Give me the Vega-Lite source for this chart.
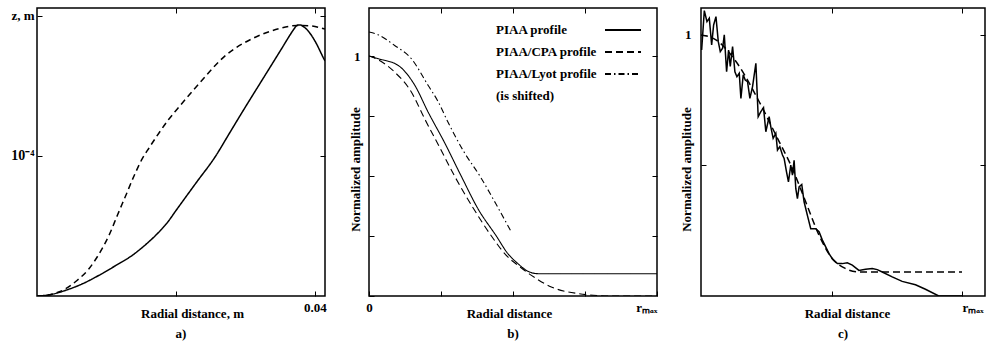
{
  "$schema": "https://vega.github.io/schema/vega-lite/v6.json",
  "background": "white",
  "padding": {"left": 10, "top": 6, "right": 0, "bottom": 0},
  "spacing": 44,
  "bounds": "flush",
  "resolve": {"scale": {"strokeDash": "independent"}, "legend": {"strokeDash": "independent"}},
  "datasets": {
    "panelA": [
      {"r": 0, "z": 0, "profile": "PIAA profile"},
      {"r": 0.002014, "z": 1.07e-6, "profile": "PIAA profile"},
      {"r": 0.004129, "z": 4.07e-6, "profile": "PIAA profile"},
      {"r": 0.006475, "z": 8.57e-6, "profile": "PIAA profile"},
      {"r": 0.008921, "z": 1.479e-5, "profile": "PIAA profile"},
      {"r": 0.011223, "z": 2.143e-5, "profile": "PIAA profile"},
      {"r": 0.013712, "z": 2.907e-5, "profile": "PIAA profile"},
      {"r": 0.015396, "z": 3.571e-5, "profile": "PIAA profile"},
      {"r": 0.017079, "z": 4.336e-5, "profile": "PIAA profile"},
      {"r": 0.018705, "z": 5.214e-5, "profile": "PIAA profile"},
      {"r": 0.020187, "z": 6.236e-5, "profile": "PIAA profile"},
      {"r": 0.022877, "z": 8.071e-5, "profile": "PIAA profile"},
      {"r": 0.025712, "z": 1.0e-4, "profile": "PIAA profile"},
      {"r": 0.027626, "z": 1.157e-4, "profile": "PIAA profile"},
      {"r": 0.029539, "z": 1.314e-4, "profile": "PIAA profile"},
      {"r": 0.032662, "z": 1.564e-4, "profile": "PIAA profile"},
      {"r": 0.035252, "z": 1.771e-4, "profile": "PIAA profile"},
      {"r": 0.036403, "z": 1.864e-4, "profile": "PIAA profile"},
      {"r": 0.036978, "z": 1.907e-4, "profile": "PIAA profile"},
      {"r": 0.037453, "z": 1.934e-4, "profile": "PIAA profile"},
      {"r": 0.037842, "z": 1.936e-4, "profile": "PIAA profile"},
      {"r": 0.038417, "z": 1.921e-4, "profile": "PIAA profile"},
      {"r": 0.039137, "z": 1.886e-4, "profile": "PIAA profile"},
      {"r": 0.039996, "z": 1.821e-4, "profile": "PIAA profile"},
      {"r": 0.041291, "z": 1.693e-4, "profile": "PIAA profile"},
      {"r": 0.041439, "z": 1.679e-4, "profile": "PIAA profile"},
      {"r": 0, "z": 0, "profile": "PIAA/CPA profile"},
      {"r": 0.001295, "z": 3.6e-7, "profile": "PIAA/CPA profile"},
      {"r": 0.002734, "z": 2.14e-6, "profile": "PIAA/CPA profile"},
      {"r": 0.004129, "z": 5.21e-6, "profile": "PIAA/CPA profile"},
      {"r": 0.005755, "z": 1.107e-5, "profile": "PIAA/CPA profile"},
      {"r": 0.007482, "z": 1.95e-5, "profile": "PIAA/CPA profile"},
      {"r": 0.008921, "z": 3.0e-5, "profile": "PIAA/CPA profile"},
      {"r": 0.01036, "z": 4.336e-5, "profile": "PIAA/CPA profile"},
      {"r": 0.011583, "z": 5.786e-5, "profile": "PIAA/CPA profile"},
      {"r": 0.012806, "z": 7.214e-5, "profile": "PIAA/CPA profile"},
      {"r": 0.013957, "z": 8.571e-5, "profile": "PIAA/CPA profile"},
      {"r": 0.015151, "z": 9.807e-5, "profile": "PIAA/CPA profile"},
      {"r": 0.016115, "z": 1.0571e-4, "profile": "PIAA/CPA profile"},
      {"r": 0.017553, "z": 1.1643e-4, "profile": "PIAA/CPA profile"},
      {"r": 0.018992, "z": 1.2643e-4, "profile": "PIAA/CPA profile"},
      {"r": 0.020187, "z": 1.3357e-4, "profile": "PIAA/CPA profile"},
      {"r": 0.023309, "z": 1.516e-4, "profile": "PIAA/CPA profile"},
      {"r": 0.027151, "z": 1.719e-4, "profile": "PIAA/CPA profile"},
      {"r": 0.030978, "z": 1.838e-4, "profile": "PIAA/CPA profile"},
      {"r": 0.03482, "z": 1.909e-4, "profile": "PIAA/CPA profile"},
      {"r": 0.037453, "z": 1.932e-4, "profile": "PIAA/CPA profile"},
      {"r": 0.039137, "z": 1.93e-4, "profile": "PIAA/CPA profile"},
      {"r": 0.041439, "z": 1.907e-4, "profile": "PIAA/CPA profile"}
    ],
    "panelB": [
      {"r": 0, "a": 1.0, "profile": "PIAA profile"},
      {"r": 0.031, "a": 0.989, "profile": "PIAA profile"},
      {"r": 0.101, "a": 0.961, "profile": "PIAA profile"},
      {"r": 0.159, "a": 0.878, "profile": "PIAA profile"},
      {"r": 0.205, "a": 0.767, "profile": "PIAA profile"},
      {"r": 0.262, "a": 0.64, "profile": "PIAA profile"},
      {"r": 0.32, "a": 0.5, "profile": "PIAA profile"},
      {"r": 0.38, "a": 0.36, "profile": "PIAA profile"},
      {"r": 0.442, "a": 0.25, "profile": "PIAA profile"},
      {"r": 0.48, "a": 0.18, "profile": "PIAA profile"},
      {"r": 0.517, "a": 0.135, "profile": "PIAA profile"},
      {"r": 0.552, "a": 0.103, "profile": "PIAA profile"},
      {"r": 0.587, "a": 0.093, "profile": "PIAA profile"},
      {"r": 1.0, "a": 0.093, "profile": "PIAA profile"},
      {"r": 0, "a": 1.0, "profile": "PIAA/CPA profile"},
      {"r": 0.031, "a": 0.985, "profile": "PIAA/CPA profile"},
      {"r": 0.089, "a": 0.933, "profile": "PIAA/CPA profile"},
      {"r": 0.147, "a": 0.85, "profile": "PIAA/CPA profile"},
      {"r": 0.193, "a": 0.739, "profile": "PIAA/CPA profile"},
      {"r": 0.245, "a": 0.62, "profile": "PIAA/CPA profile"},
      {"r": 0.297, "a": 0.5, "profile": "PIAA/CPA profile"},
      {"r": 0.36, "a": 0.37, "profile": "PIAA/CPA profile"},
      {"r": 0.425, "a": 0.25, "profile": "PIAA/CPA profile"},
      {"r": 0.48, "a": 0.165, "profile": "PIAA/CPA profile"},
      {"r": 0.517, "a": 0.128, "profile": "PIAA/CPA profile"},
      {"r": 0.564, "a": 0.086, "profile": "PIAA/CPA profile"},
      {"r": 0.633, "a": 0.0375, "profile": "PIAA/CPA profile"},
      {"r": 0.726, "a": 0.01, "profile": "PIAA/CPA profile"},
      {"r": 0.795, "a": 0.002, "profile": "PIAA/CPA profile"},
      {"r": 0.85, "a": 0, "profile": "PIAA/CPA profile"},
      {"r": 1.0, "a": 0, "profile": "PIAA/CPA profile"},
      {"r": 0, "a": 1.1, "profile": "PIAA/Lyot profile"},
      {"r": 0.031, "a": 1.089, "profile": "PIAA/Lyot profile"},
      {"r": 0.089, "a": 1.044, "profile": "PIAA/Lyot profile"},
      {"r": 0.147, "a": 0.989, "profile": "PIAA/Lyot profile"},
      {"r": 0.205, "a": 0.878, "profile": "PIAA/Lyot profile"},
      {"r": 0.24, "a": 0.81, "profile": "PIAA/Lyot profile"},
      {"r": 0.274, "a": 0.725, "profile": "PIAA/Lyot profile"},
      {"r": 0.33, "a": 0.6, "profile": "PIAA/Lyot profile"},
      {"r": 0.385, "a": 0.5, "profile": "PIAA/Lyot profile"},
      {"r": 0.44, "a": 0.385, "profile": "PIAA/Lyot profile"},
      {"r": 0.494, "a": 0.267, "profile": "PIAA/Lyot profile"}
    ],
    "panelC": [
      {"r": 0, "a": 1.0, "profile": "Ideal profile"},
      {"r": 0.057, "a": 0.981, "profile": "Ideal profile"},
      {"r": 0.134, "a": 0.898, "profile": "Ideal profile"},
      {"r": 0.223, "a": 0.744, "profile": "Ideal profile"},
      {"r": 0.287, "a": 0.616, "profile": "Ideal profile"},
      {"r": 0.35, "a": 0.488, "profile": "Ideal profile"},
      {"r": 0.401, "a": 0.361, "profile": "Ideal profile"},
      {"r": 0.452, "a": 0.233, "profile": "Ideal profile"},
      {"r": 0.503, "a": 0.143, "profile": "Ideal profile"},
      {"r": 0.554, "a": 0.105, "profile": "Ideal profile"},
      {"r": 0.605, "a": 0.092, "profile": "Ideal profile"},
      {"r": 1.0, "a": 0.092, "profile": "Ideal profile"},
      {"r": 0.0025, "a": 0.942, "profile": "Measured profile"},
      {"r": 0.0127, "a": 1.093, "profile": "Measured profile"},
      {"r": 0.0229, "a": 1.051, "profile": "Measured profile"},
      {"r": 0.0318, "a": 1.064, "profile": "Measured profile"},
      {"r": 0.0408, "a": 0.962, "profile": "Measured profile"},
      {"r": 0.0484, "a": 1.038, "profile": "Measured profile"},
      {"r": 0.0573, "a": 1.07, "profile": "Measured profile"},
      {"r": 0.0662, "a": 0.974, "profile": "Measured profile"},
      {"r": 0.0739, "a": 0.936, "profile": "Measured profile"},
      {"r": 0.0828, "a": 0.949, "profile": "Measured profile"},
      {"r": 0.0892, "a": 1.0, "profile": "Measured profile"},
      {"r": 0.0981, "a": 0.859, "profile": "Measured profile"},
      {"r": 0.1057, "a": 0.942, "profile": "Measured profile"},
      {"r": 0.1121, "a": 0.879, "profile": "Measured profile"},
      {"r": 0.121, "a": 0.955, "profile": "Measured profile"},
      {"r": 0.1299, "a": 0.859, "profile": "Measured profile"},
      {"r": 0.1376, "a": 0.84, "profile": "Measured profile"},
      {"r": 0.1465, "a": 0.853, "profile": "Measured profile"},
      {"r": 0.1529, "a": 0.757, "profile": "Measured profile"},
      {"r": 0.1618, "a": 0.847, "profile": "Measured profile"},
      {"r": 0.1694, "a": 0.827, "profile": "Measured profile"},
      {"r": 0.1783, "a": 0.821, "profile": "Measured profile"},
      {"r": 0.1873, "a": 0.757, "profile": "Measured profile"},
      {"r": 0.1975, "a": 0.802, "profile": "Measured profile"},
      {"r": 0.2102, "a": 0.891, "profile": "Measured profile"},
      {"r": 0.2191, "a": 0.687, "profile": "Measured profile"},
      {"r": 0.2293, "a": 0.706, "profile": "Measured profile"},
      {"r": 0.2395, "a": 0.721, "profile": "Measured profile"},
      {"r": 0.2484, "a": 0.629, "profile": "Measured profile"},
      {"r": 0.2611, "a": 0.687, "profile": "Measured profile"},
      {"r": 0.2675, "a": 0.648, "profile": "Measured profile"},
      {"r": 0.2764, "a": 0.604, "profile": "Measured profile"},
      {"r": 0.2866, "a": 0.623, "profile": "Measured profile"},
      {"r": 0.293, "a": 0.559, "profile": "Measured profile"},
      {"r": 0.3019, "a": 0.572, "profile": "Measured profile"},
      {"r": 0.3121, "a": 0.54, "profile": "Measured profile"},
      {"r": 0.3185, "a": 0.527, "profile": "Measured profile"},
      {"r": 0.3274, "a": 0.476, "profile": "Measured profile"},
      {"r": 0.335, "a": 0.437, "profile": "Measured profile"},
      {"r": 0.3439, "a": 0.501, "profile": "Measured profile"},
      {"r": 0.3503, "a": 0.463, "profile": "Measured profile"},
      {"r": 0.3567, "a": 0.52, "profile": "Measured profile"},
      {"r": 0.3631, "a": 0.412, "profile": "Measured profile"},
      {"r": 0.3694, "a": 0.373, "profile": "Measured profile"},
      {"r": 0.3758, "a": 0.418, "profile": "Measured profile"},
      {"r": 0.386, "a": 0.427, "profile": "Measured profile"},
      {"r": 0.3949, "a": 0.361, "profile": "Measured profile"},
      {"r": 0.4076, "a": 0.309, "profile": "Measured profile"},
      {"r": 0.4204, "a": 0.258, "profile": "Measured profile"},
      {"r": 0.4395, "a": 0.258, "profile": "Measured profile"},
      {"r": 0.4522, "a": 0.246, "profile": "Measured profile"},
      {"r": 0.465, "a": 0.214, "profile": "Measured profile"},
      {"r": 0.4777, "a": 0.188, "profile": "Measured profile"},
      {"r": 0.4904, "a": 0.162, "profile": "Measured profile"},
      {"r": 0.5032, "a": 0.143, "profile": "Measured profile"},
      {"r": 0.5223, "a": 0.124, "profile": "Measured profile"},
      {"r": 0.5414, "a": 0.124, "profile": "Measured profile"},
      {"r": 0.5605, "a": 0.127, "profile": "Measured profile"},
      {"r": 0.5796, "a": 0.118, "profile": "Measured profile"},
      {"r": 0.6051, "a": 0.098, "profile": "Measured profile"},
      {"r": 0.6306, "a": 0.102, "profile": "Measured profile"},
      {"r": 0.6561, "a": 0.105, "profile": "Measured profile"},
      {"r": 0.6752, "a": 0.101, "profile": "Measured profile"},
      {"r": 0.6943, "a": 0.092, "profile": "Measured profile"},
      {"r": 0.7325, "a": 0.073, "profile": "Measured profile"},
      {"r": 0.7707, "a": 0.056, "profile": "Measured profile"},
      {"r": 0.8217, "a": 0.043, "profile": "Measured profile"},
      {"r": 0.8599, "a": 0.026, "profile": "Measured profile"},
      {"r": 0.9108, "a": 0.0, "profile": "Measured profile"},
      {"r": 1.0, "a": 0.0, "profile": "Measured profile"}
    ]
  },
  "hconcat": [
    {
      "width": 288,
      "height": 288,
      "data": {"name": "panelA"},
      "title": {"text": "a)", "orient": "bottom", "offset": 8},
      "layer": [
        {
          "mark": {"type": "line", "color": "black", "strokeWidth": 1.5, "clip": true, "interpolate": "monotone"},
          "encoding": {
            "x": {"field": "r", "type": "quantitative", "scale": {"domain": [0, 0.04144], "nice": false, "zero": false},
              "axis": {"orient": "bottom", "values": [0.02, 0.04], "labelExpr": "datum.value > 0.03 ? '0.04' : ''", "labelPadding": 10, "title": "Radial distance, m", "titleX": 155, "titleY": 17, "titleBaseline": "middle", "titleAlign": "center"}},
            "y": {"field": "z", "type": "quantitative", "scale": {"domain": [0, 0.0002057], "nice": false, "zero": false},
              "axis": {"orient": "left", "values": [0.0001, 0.0002], "labelExpr": "datum.value > 0.00015 ? 'z, m' : '10⁻⁴'", "labelFontSize": {"condition": {"test": "datum.value < 0.00015", "value": 14}, "value": 13}, "labelPadding": 8, "title": null}},
            "strokeDash": {"field": "profile", "type": "nominal", "scale": {"domain": ["PIAA profile", "PIAA/CPA profile"], "range": [[1, 0], [6, 4]]}, "legend": null}
          }
        },
        {
          "mark": {"type": "line", "opacity": 0},
          "encoding": {
            "x": {"field": "r", "type": "quantitative", "scale": {"domain": [0, 0.04144], "nice": false, "zero": false},
              "axis": {"orient": "top", "values": [0.02, 0.04], "labels": false, "title": null}},
            "y": {"field": "z", "type": "quantitative", "scale": {"domain": [0, 0.0002057], "nice": false, "zero": false},
              "axis": {"orient": "right", "values": [0.0001, 0.0002], "labels": false, "title": null}}
          }
        }
      ],
      "resolve": {"axis": {"x": "independent", "y": "independent"}}
    },
    {
      "width": 288,
      "height": 288,
      "data": {"name": "panelB"},
      "title": {"text": "b)", "orient": "bottom", "offset": 8},
      "layer": [
        {
          "mark": {"type": "line", "color": "black", "strokeWidth": 1.1, "clip": true, "interpolate": "monotone"},
          "encoding": {
            "x": {"field": "r", "type": "quantitative", "scale": {"domain": [0, 1], "nice": false, "zero": false},
              "axis": {"orient": "bottom", "values": [0, 0.25, 0.5, 0.75, 1], "labelExpr": "datum.value == 0 ? '0' : datum.value == 1 ? 'rₘₐₓ' : ''", "labelAlign": {"condition": {"test": "datum.value == 1", "value": "right"}, "value": "center"}, "labelPadding": 10, "title": "Radial distance", "titleX": 140, "titleY": 17, "titleBaseline": "middle", "titleAlign": "center"}},
            "y": {"field": "a", "type": "quantitative", "scale": {"domain": [0, 1.2], "nice": false, "zero": false},
              "axis": {"orient": "left", "values": [0, 0.25, 0.5, 0.75, 1], "labelExpr": "datum.value == 1 ? '1' : ''", "labelPadding": 14, "title": "Normalized amplitude", "titleX": -14, "titleY": 161, "titleAngle": -90, "titleAlign": "center", "titleBaseline": "middle"}},
            "strokeDash": {"field": "profile", "type": "nominal",
              "scale": {"domain": ["PIAA profile", "PIAA/CPA profile", "PIAA/Lyot profile", "(is shifted)"], "range": [[1, 0], [7, 4], [6, 3, 1.5, 3], [0, 100]]},
              "legend": {"orient": "none", "legendX": 127, "legendY": 15.5, "padding": 0, "title": null, "symbolType": "M-4,0H4", "symbolSize": 81, "symbolStrokeWidth": 2, "symbolStrokeColor": "black", "labelOffset": -133.5, "symbolOffset": 120.5, "rowPadding": 8, "labelLimit": 300}}
          }
        },
        {
          "mark": {"type": "line", "opacity": 0},
          "encoding": {
            "x": {"field": "r", "type": "quantitative", "scale": {"domain": [0, 1], "nice": false, "zero": false},
              "axis": {"orient": "top", "values": [0.25, 0.5, 0.75], "labels": false, "title": null}},
            "y": {"field": "a", "type": "quantitative", "scale": {"domain": [0, 1.2], "nice": false, "zero": false},
              "axis": {"orient": "right", "values": [0.25, 0.5, 0.75, 1], "labels": false, "title": null}}
          }
        }
      ],
      "resolve": {"axis": {"x": "independent", "y": "independent"}}
    },
    {
      "width": 284,
      "height": 288,
      "data": {"name": "panelC"},
      "title": {"text": "c)", "orient": "bottom", "offset": 8},
      "layer": [
        {
          "transform": [{"filter": "datum.profile == 'Measured profile'"}],
          "mark": {"type": "line", "color": "black", "strokeWidth": 1.5, "clip": true},
          "encoding": {
            "x": {"field": "r", "type": "quantitative", "scale": {"domain": [0, 1.088], "nice": false, "zero": false},
              "axis": {"orient": "bottom", "values": [0.5, 1], "labelExpr": "datum.value == 1 ? 'rₘₐₓ' : ''", "labelAlign": "left", "labelPadding": 10, "title": "Radial distance", "titleX": 146, "titleY": 17, "titleBaseline": "middle", "titleAlign": "center"}},
            "y": {"field": "a", "type": "quantitative", "scale": {"domain": [0, 1.103], "nice": false, "zero": false},
              "axis": {"orient": "left", "values": [0.5, 1], "labelExpr": "datum.value == 1 ? '1' : ''", "labelPadding": 15, "title": "Normalized amplitude", "titleX": -15, "titleY": 161, "titleAngle": -90, "titleAlign": "center", "titleBaseline": "middle"}}
          }
        },
        {
          "transform": [{"filter": "datum.profile == 'Ideal profile'"}],
          "mark": {"type": "line", "color": "black", "strokeWidth": 1.5, "strokeDash": [7, 4], "clip": true, "interpolate": "monotone"},
          "encoding": {
            "x": {"field": "r", "type": "quantitative", "scale": {"domain": [0, 1.088], "nice": false, "zero": false},
              "axis": {"orient": "top", "values": [0.5, 1], "labels": false, "title": null}},
            "y": {"field": "a", "type": "quantitative", "scale": {"domain": [0, 1.103], "nice": false, "zero": false},
              "axis": {"orient": "right", "values": [0.5, 1], "labels": false, "title": null}}
          }
        }
      ],
      "resolve": {"axis": {"x": "independent", "y": "independent"}}
    }
  ],
  "config": {
    "font": "Liberation Serif",
    "view": {"stroke": "black", "strokeWidth": 1.5},
    "axis": {"domain": false, "grid": false, "ticks": true, "tickSize": -5, "tickColor": "black", "tickWidth": 1,
      "labelFont": "Liberation Serif", "labelFontSize": 13, "labelFontWeight": "bold", "labelColor": "black",
      "titleFont": "Liberation Serif", "titleFontSize": 13, "titleFontWeight": "bold", "titleColor": "black"},
    "legend": {"labelFont": "Liberation Serif", "labelFontSize": 13, "labelFontWeight": "bold", "labelColor": "black"},
    "title": {"font": "Liberation Serif", "fontSize": 13, "fontWeight": "bold", "color": "black", "anchor": "middle"}
  }
}
